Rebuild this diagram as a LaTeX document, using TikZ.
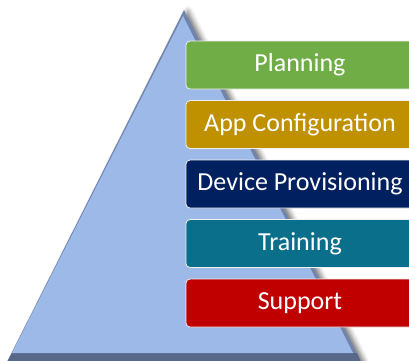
\documentclass[tikz,border=0pt]{standalone}
\usepackage{fontspec}
\setmainfont{Carlito}
\usepackage{tikz}
\usetikzlibrary{positioning, shadows.blur}
\definecolor{pyrface}{RGB}{156, 185, 232}
\definecolor{pyrside}{RGB}{112, 132, 172}
\definecolor{pyrbase}{RGB}{88, 104, 138}
\definecolor{planninggreen}{RGB}{112, 173, 71}
\definecolor{appgold}{RGB}{191, 144, 0}
\definecolor{devicenavy}{RGB}{0, 32, 96}
\definecolor{trainingteal}{RGB}{10, 111, 138}
\definecolor{supportred}{RGB}{192, 0, 0}

\begin{document}
\begin{tikzpicture}[x = 1pt, y = -1pt, node distance = 10.7pt,
    layer/.style={draw = white!88!gray, line width = 0.8pt, rounded corners = 4pt,
      minimum width = 228pt, minimum height = 48pt, text = white,
      font = \fontsize{26}{31}\selectfont}]
  \useasboundingbox (0,0) rectangle (409,360);
  \clip (0,0) rectangle (409,360);

  % pyramid
  \fill [pyrside, blur shadow = {shadow xshift = 4pt, shadow yshift = -1pt, shadow blur radius = 5pt, shadow opacity = 55}]
    (184,10) -- (361,362) -- (7,362) -- cycle;
  \fill [pyrbase] (12,353) -- (357,353) -- (361,362) -- (7,362) -- cycle;
  \fill [pyrface] (183,16) -- (353,353) -- (12,353) -- cycle;

  % nodes
  \node [layer, fill = planninggreen] (planning) at (300,65) {Planning};
  \node [layer, fill = appgold][below = of planning] (appconfig) {App Configuration};
  \node [layer, fill = devicenavy][below = of appconfig] (provisioning) {Device Provisioning};
  \node [layer, fill = trainingteal][below = of provisioning] (training) {Training};
  \node [layer, fill = supportred][below = of training] (support) {Support};
\end{tikzpicture}
\end{document}
